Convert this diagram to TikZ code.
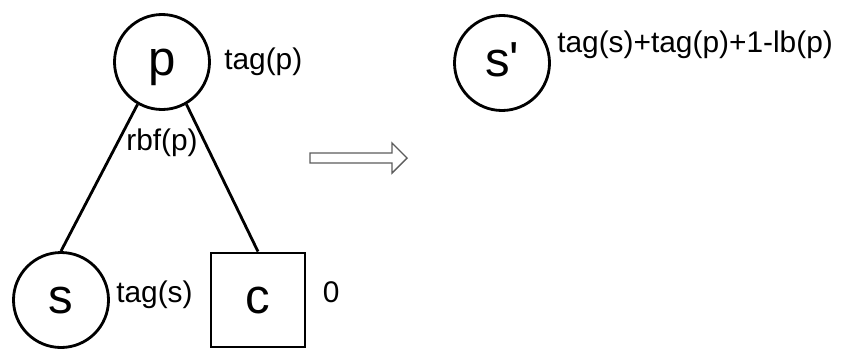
\documentclass[tikz,border=0pt]{standalone}
\usepackage{fontspec}
\setmainfont{Liberation Sans}
\usetikzlibrary{positioning}
\definecolor{arrowgray}{HTML}{5C5C5C}

\begin{document}
\begin{tikzpicture}[
        vertex/.style={circle, draw=black, line width=1.6pt, minimum size=1.9cm, inner sep=0pt, font=\fontsize{28}{32}\selectfont, text height=0.52cm, text depth=0pt},
        leaf/.style={rectangle, draw=black, line width=1.6pt, minimum size=1.88cm, inner sep=0pt, font=\fontsize{28}{32}\selectfont, text height=0.52cm, text depth=0pt},
        note/.style={inner sep=0pt, font=\fontsize{17}{20}\selectfont},
        branch/.style={line width=1.6pt, draw=black},
        hollow/.style={draw=arrowgray, line width=0.8pt, fill=white, line join=miter}
    ]
    \useasboundingbox (0,0) rectangle (16.86,-6.98);
    \node[vertex] (p) at (3.24,-1.24) {p};
    \node[vertex] (s) at (1.22,-6.0) {s};
    \node[leaf] (c) at (5.16,-6.0) {c};
    \node[vertex] (sprime) at (10.04,-1.26) {s\textquotesingle};
    \node[note, right=0.26cm of p] (tagp) {tag(p)};
    \node[note, right=0.12cm of s, yshift=0.1cm] (tags) {tag(s)};
    \node[note, right=0.32cm of c, yshift=0.16cm] (tagc) {0};
    \node[note, below=0.36cm of p] (rbf) {rbf(p)};
    \node[note, right=0.12cm of sprime, yshift=0.36cm] (tagsprime) {tag(s)+tag(p)+1-lb(p)};
    \draw[branch] (p.240) -- (s.north);
    \draw[branch] (p.300) -- (c.north);
    \draw[hollow] (6.2,-3.06) -- (7.84,-3.06) -- (7.84,-2.86) -- (8.14,-3.16)
        -- (7.84,-3.46) -- (7.84,-3.26) -- (6.2,-3.26) -- cycle;
\end{tikzpicture}
\end{document}
